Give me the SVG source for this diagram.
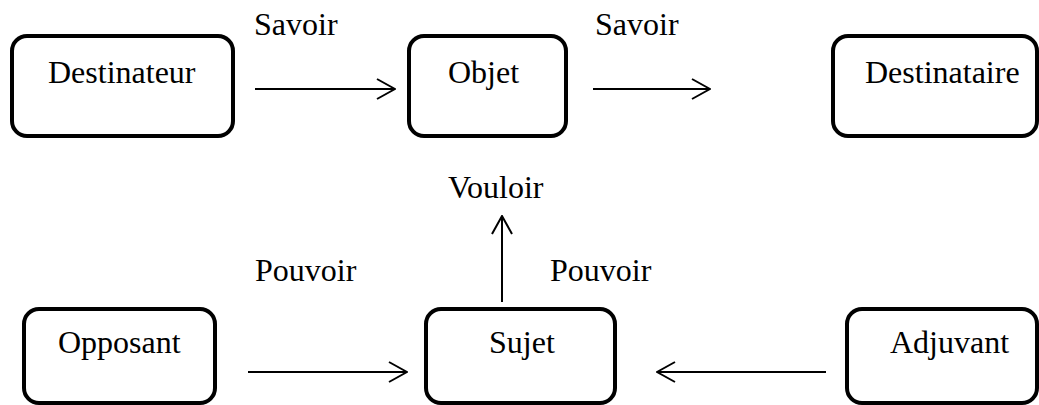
<svg xmlns="http://www.w3.org/2000/svg" width="1039" height="405" viewBox="0 0 1039 405">
<style>
.box{fill:#fff;stroke:#000;stroke-width:4}
.t{font-family:"Liberation Serif","Times New Roman",serif;font-size:32px;fill:#000}
.c{stroke:#000;stroke-width:2;fill:none}
</style>
<defs>
<marker id="ah" viewBox="0 0 20 22" refX="19" refY="11" markerWidth="20" markerHeight="22" markerUnits="userSpaceOnUse" orient="auto">
<path d="M1,1 L19,11 L1,21" fill="none" stroke="#000" stroke-width="2"/>
</marker>
</defs>
<rect width="1039" height="405" fill="#fff"/>
<g id="destinateur"><rect class="box" x="12" y="36" width="221" height="100" rx="15"/><text class="t" x="48" y="83">Destinateur</text></g>
<g id="objet"><rect class="box" x="409" y="36" width="157" height="100" rx="15"/><text class="t" x="448" y="83">Objet</text></g>
<g id="destinataire"><rect class="box" x="833" y="36" width="204" height="100" rx="15"/><text class="t" x="865" y="83">Destinataire</text></g>
<g id="opposant"><rect class="box" x="24" y="309" width="191" height="94" rx="15"/><text class="t" x="58" y="353">Opposant</text></g>
<g id="sujet"><rect class="box" x="426" y="309" width="189" height="94" rx="15"/><text class="t" x="489" y="353">Sujet</text></g>
<g id="adjuvant"><rect class="box" x="847" y="309" width="190" height="94" rx="15"/><text class="t" x="890" y="353">Adjuvant</text></g>
<g id="connectors">
<line class="c" x1="255" y1="89" x2="395" y2="89" marker-end="url(#ah)"/>
<line class="c" x1="593" y1="89" x2="710" y2="89" marker-end="url(#ah)"/>
<line class="c" x1="502" y1="302" x2="502" y2="216" marker-end="url(#ah)"/>
<line class="c" x1="248" y1="372" x2="407" y2="372" marker-end="url(#ah)"/>
<line class="c" x1="826" y1="372" x2="657" y2="372" marker-end="url(#ah)"/>
</g>
<g id="labels">
<text class="t" x="254" y="35">Savoir</text>
<text class="t" x="595" y="35">Savoir</text>
<text class="t" x="448" y="198">Vouloir</text>
<text class="t" x="255" y="281">Pouvoir</text>
<text class="t" x="550" y="281">Pouvoir</text>
</g>
</svg>
